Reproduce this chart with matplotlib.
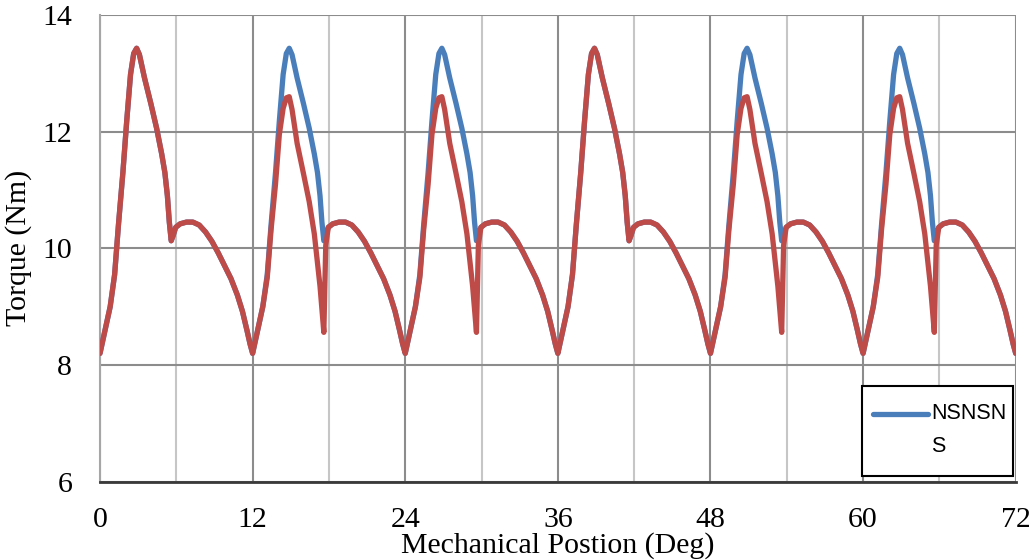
import matplotlib
matplotlib.use("Agg")
import matplotlib.pyplot as plt
from matplotlib.ticker import MultipleLocator
from matplotlib.patches import Rectangle
from matplotlib.lines import Line2D

# ---------------- data ----------------
position_deg = [
    0.0, 0.4, 0.8, 1.15, 1.45, 1.8, 2.1, 2.4, 2.65, 2.88, 3.1, 3.5, 4.0, 4.45, 4.85, 5.1, 5.3, 5.45, 5.6, 5.75, 5.95, 6.3, 6.8, 7.3, 7.8, 8.3, 8.8, 9.3, 9.8, 10.3, 10.8, 11.2, 11.55, 11.8,
    12.0, 12.4, 12.8, 13.15, 13.45, 13.8, 14.1, 14.4, 14.65, 14.88, 15.1, 15.5, 16.0, 16.45, 16.85, 17.1, 17.3, 17.45, 17.6, 17.75, 17.95, 18.3, 18.8, 19.3, 19.8, 20.3, 20.8, 21.3, 21.8, 22.3, 22.8, 23.2, 23.55, 23.8,
    24.0, 24.4, 24.8, 25.15, 25.45, 25.8, 26.1, 26.4, 26.65, 26.88, 27.1, 27.5, 28.0, 28.45, 28.85, 29.1, 29.3, 29.45, 29.6, 29.75, 29.95, 30.3, 30.8, 31.3, 31.8, 32.3, 32.8, 33.3, 33.8, 34.3, 34.8, 35.2, 35.55, 35.8,
    36.0, 36.4, 36.8, 37.15, 37.45, 37.8, 38.1, 38.4, 38.65, 38.88, 39.1, 39.5, 40.0, 40.45, 40.85, 41.1, 41.3, 41.45, 41.6, 41.75, 41.95, 42.3, 42.8, 43.3, 43.8, 44.3, 44.8, 45.3, 45.8, 46.3, 46.8, 47.2, 47.55, 47.8,
    48.0, 48.4, 48.8, 49.15, 49.45, 49.8, 50.1, 50.4, 50.65, 50.88, 51.1, 51.5, 52.0, 52.45, 52.85, 53.1, 53.3, 53.45, 53.6, 53.75, 53.95, 54.3, 54.8, 55.3, 55.8, 56.3, 56.8, 57.3, 57.8, 58.3, 58.8, 59.2, 59.55, 59.8,
    60.0, 60.4, 60.8, 61.15, 61.45, 61.8, 62.1, 62.4, 62.65, 62.88, 63.1, 63.5, 64.0, 64.45, 64.85, 65.1, 65.3, 65.45, 65.6, 65.75, 65.95, 66.3, 66.8, 67.3, 67.8, 68.3, 68.8, 69.3, 69.8, 70.3, 70.8, 71.2, 71.55, 71.8,
    72.0,
]

torque_nsnsns = [
    8.20, 8.60, 9.00, 9.55, 10.40, 11.30, 12.18, 12.98, 13.34, 13.43, 13.32, 12.92, 12.48, 12.06, 11.62, 11.30, 10.90, 10.45, 10.13, 10.22, 10.36, 10.42, 10.45, 10.45, 10.40, 10.28, 10.12, 9.92, 9.70, 9.48, 9.20, 8.92, 8.60, 8.36,
    8.20, 8.60, 9.00, 9.55, 10.40, 11.30, 12.18, 12.98, 13.34, 13.43, 13.32, 12.92, 12.48, 12.06, 11.62, 11.30, 10.90, 10.45, 10.13, 10.22, 10.36, 10.42, 10.45, 10.45, 10.40, 10.28, 10.12, 9.92, 9.70, 9.48, 9.20, 8.92, 8.60, 8.36,
    8.20, 8.60, 9.00, 9.55, 10.40, 11.30, 12.18, 12.98, 13.34, 13.43, 13.32, 12.92, 12.48, 12.06, 11.62, 11.30, 10.90, 10.45, 10.13, 10.22, 10.36, 10.42, 10.45, 10.45, 10.40, 10.28, 10.12, 9.92, 9.70, 9.48, 9.20, 8.92, 8.60, 8.36,
    8.20, 8.60, 9.00, 9.55, 10.40, 11.30, 12.18, 12.98, 13.34, 13.43, 13.32, 12.92, 12.48, 12.06, 11.62, 11.30, 10.90, 10.45, 10.13, 10.22, 10.36, 10.42, 10.45, 10.45, 10.40, 10.28, 10.12, 9.92, 9.70, 9.48, 9.20, 8.92, 8.60, 8.36,
    8.20, 8.60, 9.00, 9.55, 10.40, 11.30, 12.18, 12.98, 13.34, 13.43, 13.32, 12.92, 12.48, 12.06, 11.62, 11.30, 10.90, 10.45, 10.13, 10.22, 10.36, 10.42, 10.45, 10.45, 10.40, 10.28, 10.12, 9.92, 9.70, 9.48, 9.20, 8.92, 8.60, 8.36,
    8.20, 8.60, 9.00, 9.55, 10.40, 11.30, 12.18, 12.98, 13.34, 13.43, 13.32, 12.92, 12.48, 12.06, 11.62, 11.30, 10.90, 10.45, 10.13, 10.22, 10.36, 10.42, 10.45, 10.45, 10.40, 10.28, 10.12, 9.92, 9.70, 9.48, 9.20, 8.92, 8.60, 8.36,
    8.20,
]

torque_second = [
    8.20, 8.60, 9.00, 9.55, 10.40, 11.30, 12.18, 12.98, 13.34, 13.43, 13.32, 12.92, 12.48, 12.06, 11.62, 11.30, 10.90, 10.45, 10.13, 10.22, 10.36, 10.42, 10.45, 10.45, 10.40, 10.28, 10.12, 9.92, 9.70, 9.48, 9.20, 8.92, 8.60, 8.36,
    8.20, 8.60, 9.00, 9.50, 10.32, 11.10, 11.95, 12.40, 12.58, 12.60, 12.38, 11.80, 11.28, 10.80, 10.25, 9.75, 9.35, 8.95, 8.56, 10.05, 10.36, 10.42, 10.45, 10.45, 10.40, 10.28, 10.12, 9.92, 9.70, 9.48, 9.20, 8.92, 8.60, 8.36,
    8.20, 8.60, 9.00, 9.50, 10.32, 11.10, 11.95, 12.40, 12.58, 12.60, 12.38, 11.80, 11.28, 10.80, 10.25, 9.75, 9.35, 8.95, 8.56, 10.05, 10.36, 10.42, 10.45, 10.45, 10.40, 10.28, 10.12, 9.92, 9.70, 9.48, 9.20, 8.92, 8.60, 8.36,
    8.20, 8.60, 9.00, 9.55, 10.40, 11.30, 12.18, 12.98, 13.34, 13.43, 13.32, 12.92, 12.48, 12.06, 11.62, 11.30, 10.90, 10.45, 10.13, 10.22, 10.36, 10.42, 10.45, 10.45, 10.40, 10.28, 10.12, 9.92, 9.70, 9.48, 9.20, 8.92, 8.60, 8.36,
    8.20, 8.60, 9.00, 9.50, 10.32, 11.10, 11.95, 12.40, 12.58, 12.60, 12.38, 11.80, 11.28, 10.80, 10.25, 9.75, 9.35, 8.95, 8.56, 10.05, 10.36, 10.42, 10.45, 10.45, 10.40, 10.28, 10.12, 9.92, 9.70, 9.48, 9.20, 8.92, 8.60, 8.36,
    8.20, 8.60, 9.00, 9.50, 10.32, 11.10, 11.95, 12.40, 12.58, 12.60, 12.38, 11.80, 11.28, 10.80, 10.25, 9.75, 9.35, 8.95, 8.56, 10.05, 10.36, 10.42, 10.45, 10.45, 10.40, 10.28, 10.12, 9.92, 9.70, 9.48, 9.20, 8.92, 8.60, 8.36,
    8.20,
]

x_ticks = [0, 12, 24, 36, 48, 60, 72]
y_ticks = [6, 8, 10, 12, 14]
legend_label = "NSNSN\nS"
x_label = "Mechanical Postion (Deg)"
y_label = "Torque (Nm)"

# ---------------- styling ----------------
BLUE = "#4A7EBB"
RED = "#BE4B48"
SERIF = ["Liberation Serif", "DejaVu Serif"]
LW = 3.8

fig = plt.figure(figsize=(10.29, 5.60), dpi=100)
ax = fig.add_axes([100 / 1029, 1 - 481.7 / 560, 915.7 / 1029, 466.7 / 560])

ax.plot(position_deg, torque_nsnsns, color=BLUE, lw=LW,
        solid_capstyle="round", solid_joinstyle="round", zorder=3)
ax.plot(position_deg, torque_second, color=RED, lw=LW,
        solid_capstyle="round", solid_joinstyle="round", zorder=4)

ax.set_xlim(0, 72)
ax.set_ylim(6, 14)
ax.set_xticks(x_ticks)
ax.set_yticks(y_ticks)
ax.xaxis.set_minor_locator(MultipleLocator(6))

ax.grid(True, which="major", axis="both", color="#8c8c8c", lw=1.5)
ax.grid(True, which="minor", axis="x", color="#c6c6c6", lw=1.5)
ax.set_axisbelow(True)

for side in ["top", "right"]:
    ax.spines[side].set_visible(False)
ax.spines["left"].set_color("#a6a6a6")
ax.spines["left"].set_linewidth(1.5)
ax.spines["bottom"].set_color("#3a3a3a")
ax.spines["bottom"].set_linewidth(2.0)
ax.spines["bottom"].set_zorder(5)

ax.tick_params(axis="both", which="both", length=0)
ax.tick_params(axis="x", pad=18)
ax.tick_params(axis="y", pad=20)
for lab in ax.get_xticklabels() + ax.get_yticklabels():
    lab.set_fontfamily(SERIF)
    lab.set_fontsize(21.5)
    lab.set_color("black")

ax.set_xlabel(x_label, fontfamily=SERIF, fontsize=21.5, color="black")
ax.xaxis.set_label_coords(0.5, (481.7 - 546) / 466.7)
ax.xaxis.label.set_verticalalignment("center")
ax.set_ylabel(y_label, fontfamily=SERIF, fontsize=21.5, color="black")
ax.yaxis.set_label_coords((19 - 100) / 915.7, 0.5)
ax.yaxis.label.set_verticalalignment("center")

# ---------------- legend (only first series visible, label wrapped) ----------------
box = Rectangle((0.8318, 0.0122), 0.9974 - 0.8318, 0.2057 - 0.0122,
                transform=ax.transAxes, facecolor="white", edgecolor="black",
                lw=1.5, zorder=10, clip_on=False)
ax.add_patch(box)
ax.add_line(Line2D([0.8442, 0.9042], [0.1451, 0.1451], transform=ax.transAxes,
                   color=BLUE, lw=LW, solid_capstyle="round", zorder=11))
lines = legend_label.split("\n")
ax.text(0.9075, 0.1451, lines[0], transform=ax.transAxes, ha="left", va="center",
        fontsize=15.5, fontfamily=["Liberation Sans", "DejaVu Sans"], zorder=11)
ax.text(0.9075, 0.0744, lines[1], transform=ax.transAxes, ha="left", va="center",
        fontsize=15.5, fontfamily=["Liberation Sans", "DejaVu Sans"], zorder=11)

fig.savefig("out.png", dpi=100)
